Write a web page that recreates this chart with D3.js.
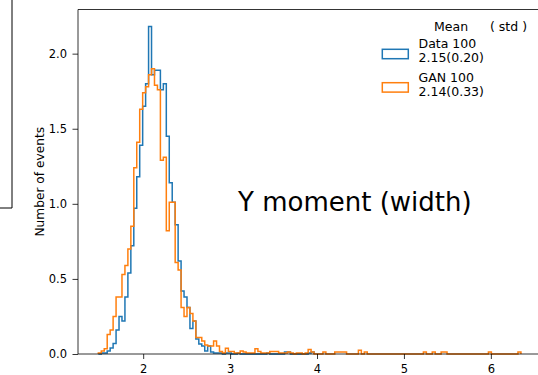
<!DOCTYPE html>
<html><head><meta charset="utf-8">
<script src="https://cdn.jsdelivr.net/npm/d3@7"></script>
<style>body{margin:0;background:#fff}svg{display:block}text{font-family:"DejaVu Sans",sans-serif;fill:#000}</style>
</head><body><svg id="c" width="538" height="375"></svg>
<script>
const binStart = 1.484, binWidth = 0.034;
const dataValues = [0,0.007,0.007,0.02,0.04,0.07,0.16,0.25,0.22,0.38,0.54,0.72,0.97,1.18,1.39,1.65,1.80,2.18,1.86,1.89,1.89,1.76,1.80,1.45,1.14,1.01,0.86,0.62,0.42,0.38,0.31,0.17,0.22,0.10,0.067,0.053,0.02,0.053,0.013,0.007,0.007,0.007,0,0.007,0.007,0,0,0.007,0,0,0,0,0,0,0,0,0,0.007,0,0,0,0,0,0.013,0.013,0,0,0,0,0,0,0.007,0.013];
const ganValues = [0.007,0.02,0.035,0.13,0.16,0.25,0.38,0.38,0.53,0.59,0.70,0.85,1.24,1.41,1.63,1.74,1.78,1.86,1.90,1.79,1.76,1.29,1.31,0.82,1.01,1.01,0.61,0.56,0.31,0.25,0.31,0.27,0.22,0.11,0.11,0.087,0.06,0.053,0.053,0.087,0.053,0.016,0.007,0.038,0.016,0.016,0.007,0.007,0.02,0.013,0.007,0.007,0.007,0.035,0.016,0.007,0.007,0.007,0.016,0.016,0.016,0.007,0.007,0.007,0.013,0.007,0,0.007,0.007,0,0.007,0.03,0.013,0,0,0,0.013,0,0,0,0.013,0.013,0.013,0.013,0,0,0,0,0.025,0,0.013,0,0,0,0,0,0,0,0,0,0,0,0,0,0,0,0,0,0,0,0.013,0,0,0.013,0,0,0.013,0.013,0,0,0,0,0,0,0,0,0,0,0,0,0,0,0.013,0,0,0,0,0,0,0,0,0,0.013];
const xTicks = [2,3,4,5,6];
const yTicks = [0,0.5,1.0,1.5,2.0];
const seriesNames = ["Data 100","GAN 100"];
const seriesStats = ["2.15(0.20)","2.14(0.33)"];
const seriesColors = ["#1f77b4","#ff7f0e"];
const legendHeader = ["Mean","( std )"];
const yLabel = "Number of events";
const bigLabel = "Y moment (width)";

const svg = d3.select("#c");
const L = 78, T = 9.5, R = 543, B = 354;
const x = d3.scaleLinear().domain([1.25, 6.6]).range([L, R]);
const y = d3.scaleLinear().domain([0, 2.294]).range([B, T]);

// fragment of a neighbouring frame at far left
svg.append("path").attr("d","M12,0V208H0").attr("fill","none").attr("stroke","#000").attr("stroke-width",1);

function stepPath(vals){
  const p = d3.path();
  p.moveTo(x(binStart), y(0));
  vals.forEach((v,i)=>{
    const x0 = x(binStart + i*binWidth), x1 = x(binStart + (i+1)*binWidth);
    p.lineTo(x0, y(v)); p.lineTo(x1, y(v));
  });
  p.lineTo(x(binStart + vals.length*binWidth), y(0));
  return p.toString();
}
[dataValues, ganValues].forEach((vals,i)=>{
  svg.append("path").attr("d", stepPath(vals)).attr("fill","none")
    .attr("stroke", seriesColors[i]).attr("stroke-width",1.5).attr("stroke-linejoin","miter");
});

// axes
const xa = svg.append("g").attr("transform",`translate(0,${B})`)
  .call(d3.axisBottom(x).tickValues(xTicks).tickFormat(d3.format("d")).tickSize(5).tickPadding(5.5));
const ya = svg.append("g").attr("transform",`translate(${L},0)`)
  .call(d3.axisLeft(y).tickValues(yTicks).tickFormat(d3.format(".1f")).tickSize(5.5).tickPadding(5.5));
[xa,ya].forEach(g=>{
  g.select(".domain").remove();
  g.selectAll("line").attr("stroke","#000").attr("stroke-width",0.8);
  g.selectAll("text").attr("font-size",11.5).attr("font-family","DejaVu Sans").attr("fill","#000");
});
// spines
svg.append("path").attr("d",`M${L},${T}V${B}H${R+2}M${L},${T}H${R+2}`).attr("fill","none").attr("stroke","#000").attr("stroke-width",0.8);

svg.append("text").attr("transform",`translate(43.5,${(T+B)/2}) rotate(-90)`).attr("text-anchor","middle")
  .attr("font-size",12.2).text(yLabel);

// legend
svg.append("text").attr("x",434).attr("y",30.7).attr("font-size",12.5).text(legendHeader[0]);
svg.append("text").attr("x",490).attr("y",30.7).attr("font-size",12.5).text(legendHeader[1]);
const legY = [49.3, 82.7];
const nameY = [48.3, 81.7];
seriesNames.forEach((n,i)=>{
  svg.append("rect").attr("x",382.3).attr("y",legY[i]).attr("width",26).attr("height",9.4)
    .attr("fill","none").attr("stroke",seriesColors[i]).attr("stroke-width",1.5);
  svg.append("text").attr("x",418.5).attr("y",nameY[i]).attr("font-size",12.5).text(n);
  svg.append("text").attr("x",418.5).attr("y",nameY[i]+14).attr("font-size",12.5).text(seriesStats[i]);
});

svg.append("text").attr("x",238).attr("y",211).attr("font-size",26).text(bigLabel);
</script>
</body></html>
